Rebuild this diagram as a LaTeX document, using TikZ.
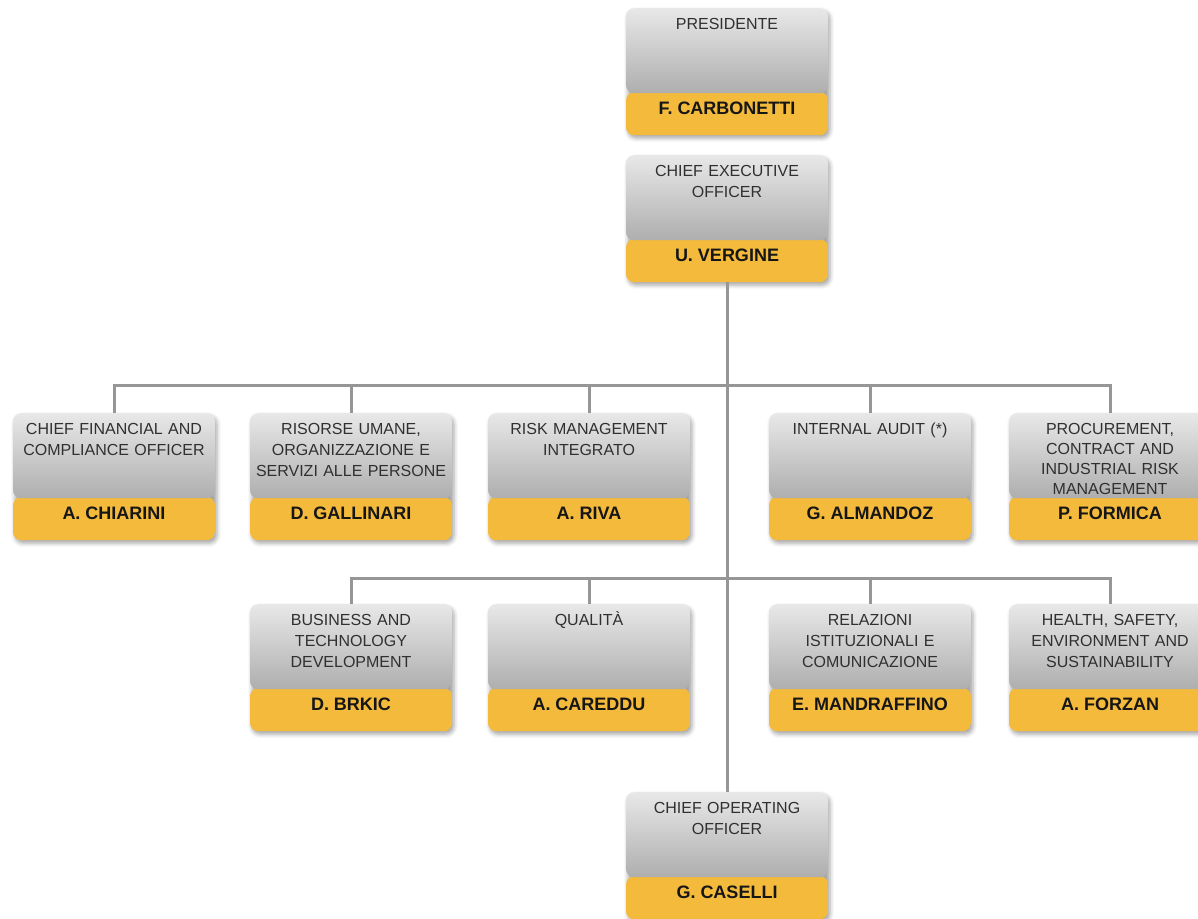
\documentclass[tikz,border=0pt]{standalone}
\usepackage{fontspec}
\setmainfont{Liberation Sans}
\usetikzlibrary{shadows.blur}

\definecolor{bandyellow}{RGB}{243,186,60}
\definecolor{paneltop}{RGB}{232,232,232}
\definecolor{panelbot}{RGB}{174,174,174}
\definecolor{linkgray}{RGB}{150,150,150}
\definecolor{titleink}{RGB}{48,48,48}
\definecolor{nameink}{RGB}{22,22,22}

\tikzset{
  unit/.style={minimum width=202pt, minimum height=127pt, inner sep=0pt,
    rounded corners=8pt, anchor=north,
    blur shadow={shadow xshift=2pt, shadow yshift=-3pt,
      shadow blur radius=4pt, shadow opacity=35},
    path picture={
      \fill[bandyellow]
        (path picture bounding box.south west) rectangle
        ([yshift=43pt]path picture bounding box.south east);
      \shade[top color=paneltop, bottom color=panelbot]
        (path picture bounding box.north west) rectangle
        ([yshift=42pt]path picture bounding box.south east);
    }},
  role/.style={anchor=base, text width=200pt, align=center, inner sep=0pt,
    font=\fontsize{16}{21}\selectfont, text=titleink},
  person/.style={anchor=base, inner sep=0pt,
    font=\fontsize{18}{20}\bfseries\selectfont, text=nameink},
  link/.style={draw=linkgray, line width=3pt},
}

% box: id, centre x, top y, role, person
\newcommand\orgunit[6][]{%
  \node[unit] (#2) at (#3,#4) {};
  \node[role,#1] (#2-role) at ([yshift=-21pt]#2.north) {#5};
  \node[person] (#2-name) at ([yshift=-106pt]#2.north) {#6};
}

\begin{document}
\begin{tikzpicture}[x=1pt,y=-1pt]
\useasboundingbox (0,0) rectangle (1198,918);
\clip (0,0) rectangle (1198,918);

\orgunit{pres}{727}{8}{PRESIDENTE}{F. CARBONETTI}
\orgunit{ceo}{727}{155}{CHIEF EXECUTIVE\\OFFICER}{U. VERGINE}

\orgunit{cfo}{114}{413}{CHIEF FINANCIAL AND\\COMPLIANCE OFFICER}{A. CHIARINI}
\orgunit{hr}{351}{413}{RISORSE UMANE,\\ORGANIZZAZIONE E\\SERVIZI ALLE PERSONE}{D. GALLINARI}
\orgunit{risk}{589}{413}{RISK MANAGEMENT\\INTEGRATO}{A. RIVA}
\orgunit{audit}{870}{413}{INTERNAL AUDIT (*)}{G. ALMANDOZ}
\orgunit[font=\fontsize{16}{20}\selectfont]{proc}{1110}{413}{PROCUREMENT,\\CONTRACT AND\\INDUSTRIAL RISK\\MANAGEMENT}{P. FORMICA}

\orgunit{bus}{351}{604}{BUSINESS AND\\TECHNOLOGY\\DEVELOPMENT}{D. BRKIC}
\orgunit{qual}{589}{604}{QUALITÀ}{A. CAREDDU}
\orgunit{rel}{870}{604}{RELAZIONI\\ISTITUZIONALI E\\COMUNICAZIONE}{E. MANDRAFFINO}
\orgunit{hse}{1110}{604}{HEALTH, SAFETY,\\ENVIRONMENT AND\\SUSTAINABILITY}{A. FORZAN}

\orgunit{coo}{727}{792}{CHIEF OPERATING\\OFFICER}{G. CASELLI}

% reporting lines
\coordinate (busA) at (727,385);
\coordinate (busB) at (727,578);
\draw[link] (ceo.south) -- (coo.north);
\foreach \u in {cfo,hr,risk,audit,proc}
  \draw[link] (\u.north) |- (busA);
\foreach \u in {bus,qual,rel,hse}
  \draw[link] (\u.north) |- (busB);
\end{tikzpicture}
\end{document}
